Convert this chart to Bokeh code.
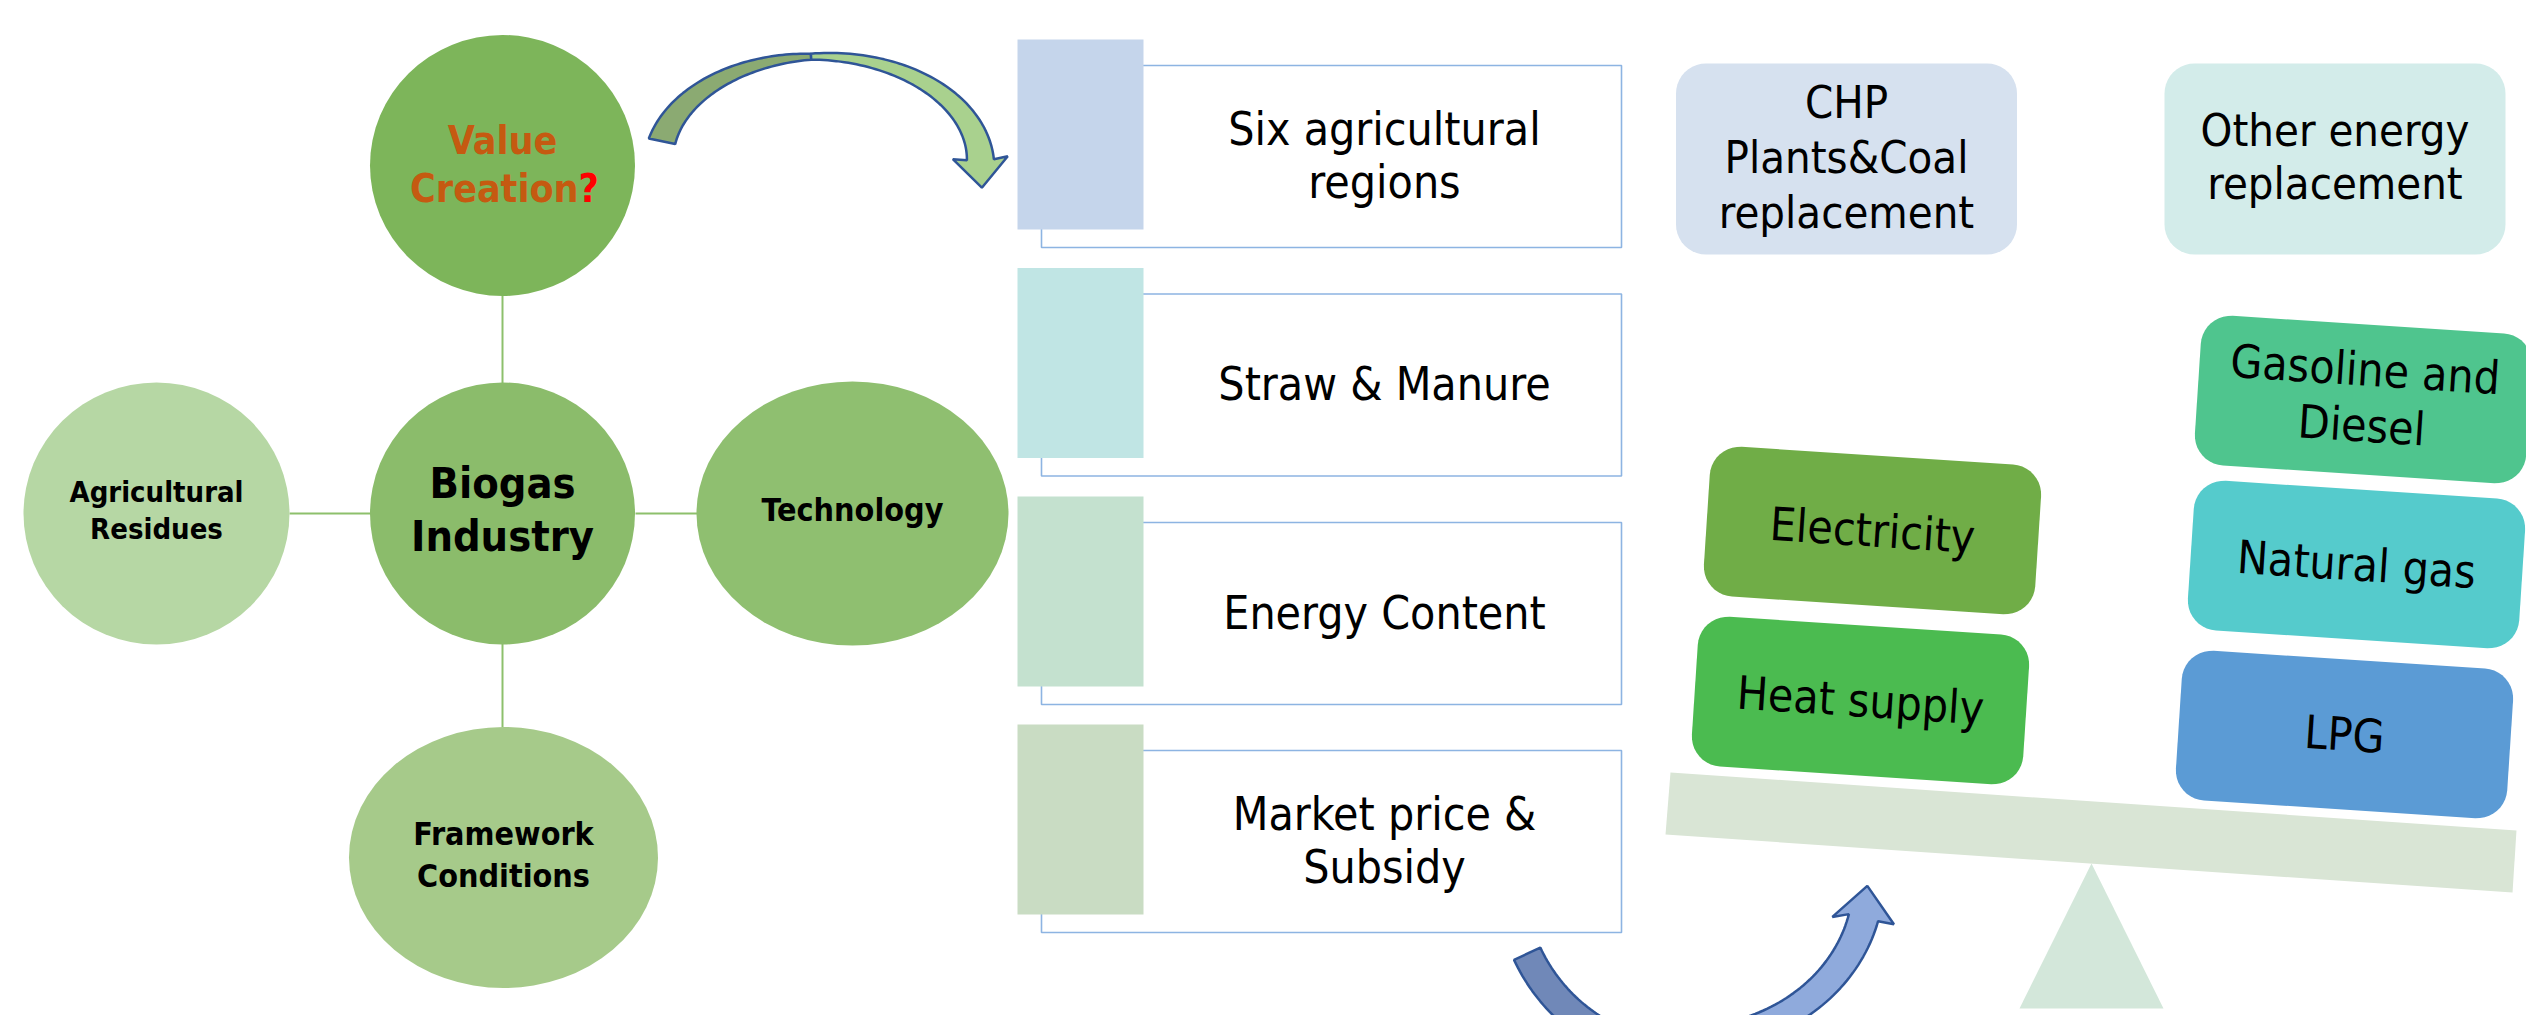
import math
from bokeh.plotting import figure
from bokeh.models import Range1d, ColumnDataSource
from bokeh.core.properties import value
from bokeh.embed import file_html
from bokeh.resources import INLINE

# ---------------- content ----------------
circle_labels = ["Value\nCreation", "Agricultural\nResidues", "Biogas\nIndustry", "Technology", "Framework\nConditions"]
list_labels = ["Six agricultural\nregions", "Straw & Manure", "Energy Content", "Market price &\nSubsidy"]
replacement_labels = ["CHP\nPlants&Coal\nreplacement", "Other energy\nreplacement"]
chp_items = ["Electricity", "Heat supply"]
other_items = ["Gasoline and\nDiesel", "Natural gas", "LPG"]

# ---------------- layout / style ----------------
FONT = "DejaVu Sans Condensed"
W, H = 2526, 1015
def Y(y):
    return H - y

p = figure(width=W, height=H, x_range=Range1d(0, W), y_range=Range1d(0, H),
           output_backend="svg", toolbar_location=None, min_border=0,
           x_axis_location=None, y_axis_location=None)
p.grid.visible = False
p.outline_line_color = None
p.background_fill_color = "white"
p.border_fill_color = "white"

def put_text(txt, cx, cy, size, spacing, color="black", bold=False, angle=0.0, align="center"):
    lines = txt.split("\n")
    n = len(lines)
    xs, ys, ts = [], [], []
    for i, ln in enumerate(lines):
        off = (i - (n - 1) / 2) * spacing
        xs.append(cx - off * math.sin(angle))
        ys.append(Y(cy + off * math.cos(angle)))
        ts.append(ln)
    src = ColumnDataSource(dict(x=xs, y=ys, t=ts))
    p.text("x", "y", text="t", source=src, text_font=value(FONT),
           text_font_size=f"{size}px", text_font_style="bold" if bold else "normal",
           text_color=color, text_align=align, text_baseline="middle", angle=-angle)

def rounded_rect(cx, cy, w, h, r, a=0.0, n=10):
    xs, ys = [], []
    corners = [(w / 2 - r, -h / 2 + r, -90, 0), (w / 2 - r, h / 2 - r, 0, 90),
               (-w / 2 + r, h / 2 - r, 90, 180), (-w / 2 + r, -h / 2 + r, 180, 270)]
    for ux, uy, a0, a1 in corners:
        for k in range(n + 1):
            t = math.radians(a0 + (a1 - a0) * k / n)
            u = ux + r * math.cos(t)
            v = uy + r * math.sin(t)
            xs.append(cx + u * math.cos(a) - v * math.sin(a))
            ys.append(Y(cy + u * math.sin(a) + v * math.cos(a)))
    return xs, ys

# ---------------- hub of circles ----------------
cx_ = [502, 156, 502, 852, 503]
cy_ = [165, 513, 513, 513, 857]
cw_ = [265, 266, 265, 312, 309]
ch_ = [261, 262, 262, 264, 261]
ccol = ["#7DB55A", "#B6D7A4", "#8BBC6B", "#8FBF70", "#A6CA8A"]

p.segment(x0=[502, 502, 289, 635], y0=[Y(295), Y(643), Y(513), Y(513)],
          x1=[502, 502, 370, 697], y1=[Y(383), Y(727), Y(513), Y(513)],
          line_color="#8DC06C", line_width=2)
p.ellipse(x=cx_, y=[Y(v) for v in cy_], width=cw_, height=ch_, fill_color=ccol, line_color=None)

vc = circle_labels[0].split("\n")
put_text(vc[0], 502, 140, 39, 48, color="#C55A11", bold=True)
put_text(vc[1], 578, 188, 39, 48, color="#C55A11", bold=True, align="right")
put_text("?", 578, 188, 39, 48, color="#FF0000", bold=True, align="left")
put_text(circle_labels[1], 156, 510, 29, 37, bold=True)
put_text(circle_labels[2], 502, 509, 43, 53, bold=True)
put_text(circle_labels[3], 852, 509, 32, 40, bold=True)
put_text(circle_labels[4], 503, 854, 32, 42, bold=True)

# ---------------- top curved arrow ----------------
acx, acy, arx, ary = 819, 163, 161, 107
t1, tm, t2 = math.radians(168), math.radians(93), math.radians(2)
def aw(t):
    if t >= tm:
        return 6 + 21 * (t - tm) / (t1 - tm)
    return 6 + 21 * (tm - t) / (tm - t2)
def band(ta, tb, n=60):
    outer, inner = [], []
    for k in range(n + 1):
        t = ta + (tb - ta) * k / n
        w = aw(t)
        outer.append((acx + (arx + w / 2) * math.cos(t), acy - (ary + w / 2) * math.sin(t)))
        inner.append((acx + (arx - w / 2) * math.cos(t), acy - (ary - w / 2) * math.sin(t)))
    return outer, inner
o, i_ = band(t1, tm)
pts = o + i_[::-1]
p.patch([q[0] for q in pts], [Y(q[1]) for q in pts], fill_color="#8BAA72", line_color="#2F5597", line_width=2.5)
o, i_ = band(tm, t2)
C = (acx + arx * math.cos(t2), acy - ary * math.sin(t2))
d = (arx * math.sin(t2), ary * math.cos(t2)); dl = math.hypot(*d); d = (d[0] / dl, d[1] / dl)
nrm = (math.cos(t2) / arx, -math.sin(t2) / ary); nl = math.hypot(*nrm); nrm = (nrm[0] / nl, nrm[1] / nl)
hw = aw(t2) / 2 + 14
head = [(C[0] + nrm[0] * hw - d[0] * 2, C[1] + nrm[1] * hw - d[1] * 2),
        (C[0] + d[0] * 28, C[1] + d[1] * 28),
        (C[0] - nrm[0] * hw - d[0] * 2, C[1] - nrm[1] * hw - d[1] * 2)]
pts = o + head + i_[::-1]
p.patch([q[0] for q in pts], [Y(q[1]) for q in pts], fill_color="#A9D18E", line_color="#2F5597", line_width=2.5)

# ---------------- list of factors ----------------
row_top = [39, 267.5, 496, 724]
rect_col = ["#C5D5EB", "#C0E5E4", "#C4E1CF", "#C9DCC3"]
p.quad(left=[1041] * 4, right=[1621] * 4, top=[Y(t + 26) for t in row_top], bottom=[Y(t + 208) for t in row_top],
       fill_color="white", line_color="#8DB4E2", line_width=1.6)
p.quad(left=[1017] * 4, right=[1143] * 4, top=[Y(t) for t in row_top], bottom=[Y(t + 190) for t in row_top],
       fill_color=rect_col, line_color=None)
for lab, t in zip(list_labels, row_top):
    put_text(lab, 1384, t + 116, 46, 53)

# ---------------- replacement headers ----------------
for lab, x0, col in zip(replacement_labels, [1846, 2334.5], ["#D6E1EF", "#D3ECEA"]):
    xs, ys = rounded_rect(x0, 158.5, 341, 191, 30)
    p.patch(xs, ys, fill_color=col, line_color=None)
    n = lab.count("\n") + 1
    put_text(lab, x0, 157 if n == 3 else 156, 45, 55 if n == 3 else 53)

# ---------------- see-saw ----------------
plank = [(1670, 772), (2516, 830), (2512, 892), (1665, 834)]
p.patch([q[0] for q in plank], [Y(q[1]) for q in plank], fill_color="#D9E5D5", line_color=None)
tri = [(2091, 863), (2163, 1008), (2019, 1008)]
p.patch([q[0] for q in tri], [Y(q[1]) for q in tri], fill_color="#D3E7DA", line_color=None)

ANG = 0.065
chp_pos = [(1872, 530), (1860, 700)]
chp_col = ["#70AD47", "#4BBB50"]
oth_pos = [(2363, 399), (2356, 564), (2344, 734)]
oth_col = ["#4FC58E", "#55CBCC", "#5B9BD5"]
for lab, (x0, y0), col in list(zip(chp_items, chp_pos, chp_col)) + list(zip(other_items, oth_pos, oth_col)):
    xs, ys = rounded_rect(x0, y0, 332, 150, 30, ANG)
    p.patch(xs, ys, fill_color=col, line_color=None)
    put_text(lab, x0, y0 - (2 if "\n" in lab else 0), 46, 56, angle=ANG)

# ---------------- bottom U-turn arrow ----------------
bcx, bcy = 1688, 878
def barc(cx, cy, rx, ry, ta, tb, wfun, n=50):
    outer, inner = [], []
    for k in range(n + 1):
        t = ta + (tb - ta) * k / n
        w = wfun(t)
        outer.append((cx + (rx + w / 2) * math.cos(t), cy + (ry + w / 2) * math.sin(t)))
        inner.append((cx + (rx - w / 2) * math.cos(t), cy + (ry - w / 2) * math.sin(t)))
    return outer, inner
o, i_ = barc(bcx, bcy, 178, 178, math.radians(155), math.radians(88), lambda t: 29)
pts = o + i_[::-1]
p.patch([q[0] for q in pts], [Y(q[1]) for q in pts], fill_color="#7088B8", line_color="#2F5597", line_width=2.5)
ecx, ecy, erx, ery = 1690, 880, 178, 158
ta, tb = math.radians(92), math.radians(13.6)
wf = lambda t: 24 + 6 * (ta - t) / (ta - tb)
o, i_ = barc(ecx, ecy, erx, ery, ta, tb, wf)
C = (ecx + erx * math.cos(tb), ecy + ery * math.sin(tb))
d = (0.12, -1.0); dl = math.hypot(*d); d = (d[0] / dl, d[1] / dl)
nrm = (-d[1], d[0])
hw = wf(tb) / 2 + 16
head = [(C[0] + nrm[0] * hw - d[0] * 3, C[1] + nrm[1] * hw - d[1] * 3),
        (C[0] + d[0] * 32, C[1] + d[1] * 32),
        (C[0] - nrm[0] * hw - d[0] * 3, C[1] - nrm[1] * hw - d[1] * 3)]
pts = o + head + i_[::-1]
p.patch([q[0] for q in pts], [Y(q[1]) for q in pts], fill_color="#8FAADC", line_color="#2F5597", line_width=2.5)

open("out.html", "w").write(file_html(p, INLINE))
